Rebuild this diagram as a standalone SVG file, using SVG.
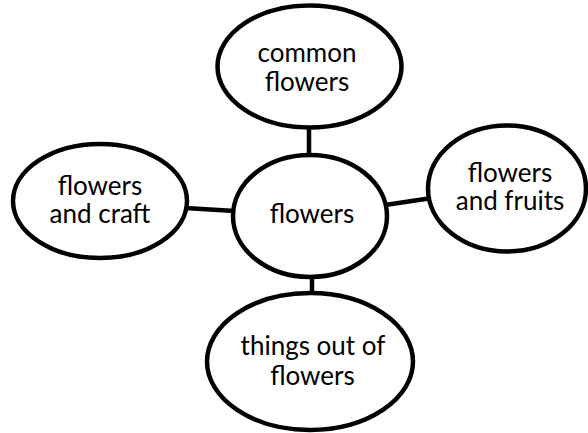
<svg xmlns="http://www.w3.org/2000/svg" width="588" height="433" viewBox="0 0 588 433">
<style>
.n{fill:#fff;stroke:#000;stroke-width:4.5}
.c{stroke:#000;stroke-width:4.5;fill:none}
text{font-family:Lato,"Liberation Sans",sans-serif;font-size:26px;fill:#000;text-anchor:middle}
</style>
<rect width="588" height="433" fill="#fff"/>
<g id="connectors">
<line class="c" x1="309" y1="126" x2="309" y2="157"/>
<line class="c" x1="185" y1="208" x2="235" y2="211"/>
<line class="c" x1="385" y1="205" x2="432" y2="198"/>
<line class="c" x1="312" y1="275" x2="312" y2="295"/>
</g>
<g id="common">
<ellipse class="n" cx="309.5" cy="66.5" rx="92" ry="61"/>
<text x="307" y="62">common</text>
<text x="307" y="91">flowers</text>
</g>
<g id="craft">
<ellipse class="n" cx="100" cy="201" rx="87" ry="57"/>
<text x="100" y="195">flowers</text>
<text x="100" y="223">and craft</text>
</g>
<g id="center">
<ellipse class="n" cx="310" cy="216" rx="77" ry="61"/>
<text x="312" y="223">flowers</text>
</g>
<g id="fruits">
<ellipse class="n" cx="507" cy="188.5" rx="79" ry="63"/>
<text x="510" y="182">flowers</text>
<text x="510" y="210">and fruits</text>
</g>
<g id="things">
<ellipse class="n" cx="310" cy="361.5" rx="103" ry="68.5"/>
<text x="313" y="355">things out of</text>
<text x="312.5" y="385">flowers</text>
</g>
</svg>
